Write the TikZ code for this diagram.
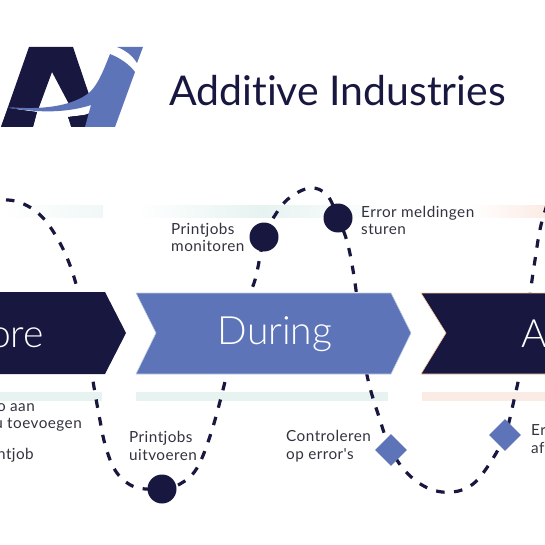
\documentclass[tikz,border=0pt]{standalone}
\usepackage{fontspec}
\setmainfont{Open Sans}
\newfontfamily\bodyf[LetterSpace=3,Ligatures=NoCommon]{Lato}
\newfontfamily\thinf{Lato Light}
\newfontfamily\logof[Ligatures=NoCommon]{Lato}
\usetikzlibrary{shapes.geometric}
\definecolor{navy}{HTML}{17173F}
\definecolor{steel}{HTML}{5D74B8}
\definecolor{mint}{HTML}{E6F3F1}
\definecolor{peach}{HTML}{FBEBE5}
\definecolor{body}{HTML}{333340}
\pgfdeclarelayer{curve}
\pgfdeclarelayer{bands}
\pgfsetlayers{bands,curve,main}
\tikzset{
  dot/.style={circle,fill=navy,inner sep=0,minimum size=29pt},
  gem/.style={diamond,fill=steel,inner sep=0,minimum width=32pt,minimum height=32pt},
  lab/.style={anchor=west,align=left,inner sep=0,font=\bodyf\fontsize{15.3}{17.5}\selectfont,text=body},
  labe/.style={lab,anchor=east},
  word/.style={text=white,inner sep=0,font=\thinf\fontsize{39}{39}\selectfont},
  dashline/.style={navy,line width=3.2pt,dash pattern=on 8.5pt off 9.5pt},
}
\begin{document}
\begin{tikzpicture}[x=1pt,y=-1pt]
\useasboundingbox (0,0) rectangle (545,545);
% logo
\fill[navy,even odd rule] (1,127)--(29,47)--(73,47)--(100,127)--cycle (52,72)--(38,110)--(70,106)--cycle;
\fill[white] (8,108) .. controls (40,112) and (70,112) .. (91,100) -- (93,112) -- (84,115) -- (68,117) -- (71,127) -- (33,127) -- (37,112) .. controls (28,111) and (18,110) .. (8,108) -- cycle;
\fill[navy] (1,127) -- (8,108) -- (37,112) -- (33,127) -- cycle;
\fill[navy] (72,127) -- (68,117) -- (86,115) -- (83,127) -- cycle;
\fill[steel] (117,47)--(143,47)--(137,63) .. controls (132,55) and (125,50) .. (117,47) -- cycle;
\fill[steel] (110,54) .. controls (120,58) and (129,64) .. (135,72) -- (115,127) -- (85,127) -- (91,105)
  .. controls (70,112) and (40,114) .. (8,107)
  .. controls (40,110) and (72,107) .. (90,92)
  .. controls (98,84) and (103,72) .. (110,54) -- cycle;
\node[anchor=base west,inner sep=0,text=navy,font=\logof\fontsize{41}{41}\selectfont] (brand) at (169,106) {Additive Industries};
% bands
\begin{pgfonlayer}{bands}
\shade[left color=white,right color=mint!60] (0,205) rectangle (103,217);
\shade[left color=white,right color=mint] (136,205) rectangle (262,217);
\shade[right color=white,left color=mint] (262,205) rectangle (388,217);
\shade[left color=white,right color=peach] (470,205) rectangle (545,217);
\fill[mint] (0,392) rectangle (102,401);
\fill[mint] (136,392) rectangle (388,401);
\fill[peach] (422,392) rectangle (545,401);
\end{pgfonlayer}
% chevrons
\fill[navy] (-10,292) -- (105,292) -- (126,333) -- (105,374) -- (-10,374) -- cycle;
\draw[mint!70!steel,line width=.6pt,fill=steel] (136,293) -- (391,293) -- (411,333) -- (391,374) -- (136,374) -- (156,333) -- cycle;
\draw[peach!70!orange,line width=.6pt,fill=navy] (421,293) -- (560,293) -- (560,374) -- (421,374) -- (446,333) -- cycle;
\node[word,anchor=east] (before) at (44,334) {Before};
\node[word] (during) at (275,334) {During};
\node[word,anchor=west] (after) at (521,334) {After};
% markers
\node[dot] (m1) at (162,489) {};
\node[dot] (m2) at (264,237) {};
\node[dot] (m3) at (338,218) {};
\node[gem] (m4) at (391,450) {};
\node[gem] (m5) at (505,435) {};
% curve
\begin{pgfonlayer}{curve}
\draw[dashline] plot[smooth,tension=.6] coordinates {(-12,200) (15,201) (38,213) (56,236) (71,268) (82,310) (92,375) (99,415) (106,448) (117,473) (135,487) (m1) (180,484) (197,468) (212,430) (228,370) (243,310) (255,280) (m2) (272,220) (288,199) (310,188) (327,195) (m3) (348,245) (356,290) (366,370) (380,420) (m4) (408,474) (430,489) (453,492) (473,484) (490,463) (m5) (514,400) (522,360) (530,295) (535,260) (541,225) (552,190)};
\end{pgfonlayer}
% labels
\node[lab] (a) at (129,446) {Printjobs\\uitvoeren};
\node[lab] (b) at (171,237.5) {Printjobs\\monitoren};
\node[lab] (c) at (361,220.5) {Error meldingen\\sturen};
\node[lab] (d) at (286,446) {Controleren\\op error's};
\node[lab] (e) at (531,439) {Er\\af};
\node[labe] (f) at (35,408) {o aan};
\node[labe] (g) at (82,425) {u toevoegen};
\node[labe] (h) at (34,455) {ntjob};
\end{tikzpicture}
\end{document}
